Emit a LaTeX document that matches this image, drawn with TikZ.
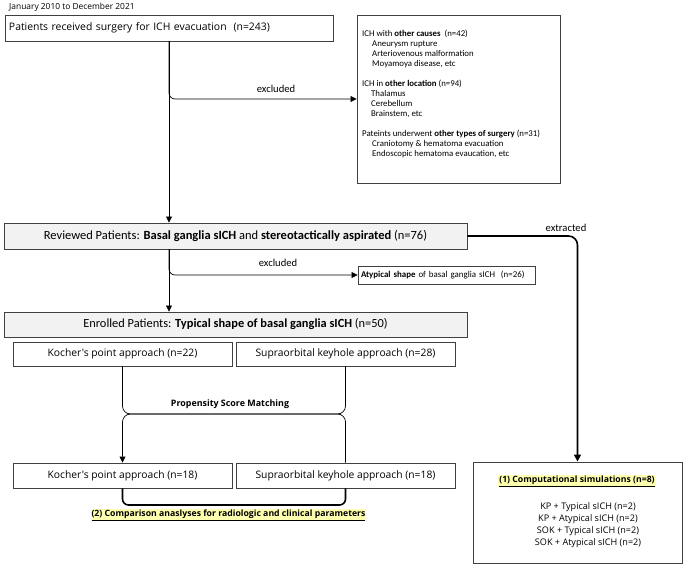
\documentclass[tikz,border=0pt]{standalone}
\usepackage{fontspec}
\setmainfont{Open Sans}
\newfontfamily\calfont{Carlito}
\newfontfamily\malfont{Open Sans}
\usetikzlibrary{arrows.meta,calc}
\definecolor{boxline}{HTML}{404040}
\definecolor{grayfill}{HTML}{F2F2F2}
\definecolor{hl}{HTML}{FFFFB0}
\tikzset{
  box/.style={draw=boxline, line width=0.9pt, inner sep=0pt, align=center},
  arr/.style={-{Triangle[length=6pt,width=6pt]}, line width=0.7pt},
  link/.style={line width=0.7pt},
  thickarr/.style={-{Triangle[length=7pt,width=7pt]}, line width=1.6pt},
  lbl/.style={inner sep=0pt, font=\calfont\fontsize{10.6}{12}\selectfont},
  hlmark/.style={fill=hl, inner sep=1pt, font=\malfont\bfseries\fontsize{8.7}{9}\selectfont},
  apbox/.style={box, minimum width=219pt, font=\malfont\fontsize{10.3}{12}\selectfont}
}
\begin{document}
\begin{tikzpicture}[x=1pt,y=-1pt]
\useasboundingbox (0,0) rectangle (685,569);
% title
\node[anchor=west, inner sep=0pt, font=\malfont\fontsize{8.4}{9}\selectfont] (date) at (9,7) {January 2010 to December 2021};
% boxes
\node[box, minimum width=328pt, minimum height=26pt, text width=320pt, align=left, font=\malfont\fontsize{10.4}{12}\selectfont] (b1) at (169,28) {Patients received surgery for ICH evacuation\ \ (n=243)};
\node[box, minimum width=203pt, minimum height=168pt] (exc) at (458.5,99) {};
\node[anchor=north west, inner sep=0pt, align=left, font=\calfont\fontsize{8.8}{10}\selectfont] (exct) at (362,29.5) {%
ICH with \textbf{other causes}\ \ (n=42)\\
\hspace*{10pt}Aneurysm rupture\\
\hspace*{10pt}Arteriovenous malformation\\
\hspace*{10pt}Moyamoya disease, etc\\[10pt]
ICH in \textbf{other location} (n=94)\\
\hspace*{9pt}Thalamus\\
\hspace*{9pt}Cerebellum\\
\hspace*{9pt}Brainstem, etc\\[10pt]
Pateints underwent \textbf{other types of surgery} (n=31)\\
\hspace*{10pt}Craniotomy \& hematoma evacuation\\
\hspace*{10pt}Endoscopic hematoma evaucation, etc};
\node[box, fill=grayfill, minimum width=463pt, minimum height=26pt, font=\calfont\fontsize{12.5}{14}\selectfont] (rev) at (235.5,236) {Reviewed Patients: \textbf{Basal ganglia sICH} and \textbf{stereotactically aspirated} (n=76)};
\node[box, minimum width=177pt, minimum height=18pt, text width=171pt, align=left, font=\calfont\fontsize{8.9}{10}\selectfont] (aty) at (446.5,275) {\textbf{Atypical shape} of basal ganglia sICH\ \ (n=26)};
\node[box, fill=grayfill, minimum width=463pt, minimum height=25pt, font=\calfont\fontsize{12.4}{14}\selectfont] (enr) at (235.5,324.5) {Enrolled Patients: \textbf{Typical shape of basal ganglia sICH} (n=50)};
\node[apbox, minimum height=24pt] (k22) at (122.5,354) {Kocher's point approach (n=22)};
\node[apbox, minimum height=24pt] (s22) at (345.5,354) {Supraorbital keyhole approach (n=28)};
\node[apbox, minimum height=25pt] (k18) at (122.5,475.5) {Kocher's point approach (n=18)};
\node[apbox, minimum height=25pt] (s18) at (345.5,475.5) {Supraorbital keyhole approach (n=18)};
\node[box, minimum width=209pt, minimum height=101pt] (sim) at (577.5,512.5) {};
\node[hlmark] (simt) at (577,481) {\underline{(1) Computational simulations (n=8)}};
\node[inner sep=0pt, align=center, font=\malfont\fontsize{9.1}{12}\selectfont] (simlist) at (588,525) {KP + Typical sICH (n=2)\\KP + Atypical sICH (n=2)\\SOK + Typical sICH (n=2)\\SOK + Atypical sICH (n=2)};
\node[hlmark] (cmp) at (228.5,515) {\underline{(2) Comparison anaslyses for radiologic and clinical parameters}};
% connectors
\draw[arr] (b1.south) -- (b1.south |- rev.north);
\draw[arr, rounded corners=6pt] (b1.south) |- (exc.west);
\node[lbl] (ex1) at (276,89) {excluded};
\coordinate (r1) at (b1.south |- rev.south);
\draw[arr] (r1) -- (r1 |- enr.north);
\draw[arr, rounded corners=6pt] (r1) |- (aty.west);
\node[lbl] (ex2) at (278,263) {excluded};
\draw[thickarr, rounded corners=9pt] (rev.east) -| (sim.north);
\node[lbl] (extr) at (566,228) {extracted};
\coordinate (psm) at (235,414);
\draw[link, rounded corners=8pt] (k22.south) |- (psm) -| (s22.south);
\draw[arr, {Triangle[length=6pt,width=6pt]}-, rounded corners=8pt] (k18.north) |- (psm) -| (s18.north);
\node[inner sep=0pt, font=\malfont\bfseries\fontsize{8.9}{10}\selectfont] (psml) at (230,404) {Propensity Score Matching};
\coordinate (brk) at (235,505);
\draw[line width=1.6pt, rounded corners=6pt] (k18.south) |- (brk) -| (s18.south);
\end{tikzpicture}
\end{document}
